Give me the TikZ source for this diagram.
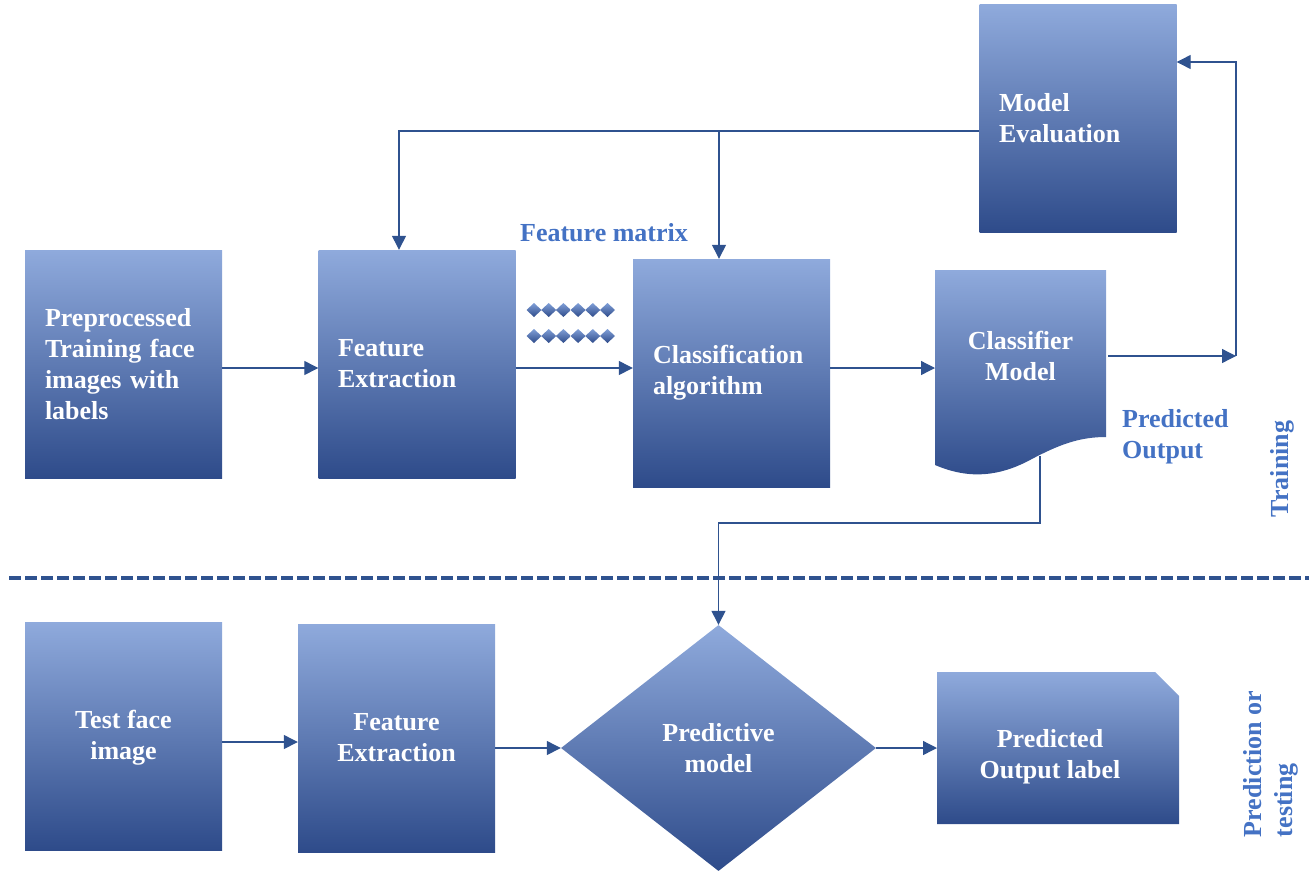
\documentclass[tikz,border=0pt]{standalone}
\usepackage{fontspec}
\setmainfont{Liberation Serif}
\usetikzlibrary{arrows.meta,shapes.geometric}
\definecolor{gtop}{HTML}{8FAADC}
\definecolor{gmid}{HTML}{4472C4}
\definecolor{gbot}{HTML}{2E4B8A}
\definecolor{lineblue}{HTML}{2F528F}
\definecolor{txtblue}{HTML}{4472C4}
\tikzset{
  grad/.style={top color=gtop, middle color=gmid, bottom color=gbot, draw=none},
  box/.style={grad, rectangle, inner sep=0pt, minimum width=197pt, minimum height=228pt,
    text=white, font=\fontsize{26}{31}\selectfont\bfseries},
  plain/.style={inner sep=0pt, text=white, font=\fontsize{26}{31}\selectfont\bfseries},
  conn/.style={draw=lineblue, line width=1.3pt, -{Triangle[length=14pt,width=14pt]}},
  wire/.style={draw=lineblue, line width=1.3pt},
  lbl/.style={text=txtblue, font=\fontsize{26}{31}\selectfont\bfseries, inner sep=0pt},
}
\begin{document}
\begin{tikzpicture}[x=1pt,y=-1pt]
\useasboundingbox (0,0) rectangle (1309,871);
% top row
\node[box, align=left, text width=157pt] (pre) at (123.5,364) {Preprocessed\\Training face\\images with\\labels};
\node[box, align=left, text width=158pt] (fe1) at (417,364) {Feature\\Extraction};
\node[box, align=left, text width=157pt] (ca) at (731.5,373) {Classification\\algorithm};
\node[box, align=left, text width=158pt] (me) at (1078,118.5) {Model\\Evaluation};
% classifier model (document shape)
\shade[grad] (935,270) -- (1106,270) -- (1106,437)
  .. controls (1080,437) and (1060,444) .. (1030,460)
  .. controls (1000,476) and (970,480) .. (935,465) -- cycle;
\node[plain, align=center, minimum width=171pt, minimum height=170pt] (cm) at (1020.5,356) {Classifier\\Model};
\coordinate (cmbot) at (1040,456);
\coordinate (cmout) at (1108,356);
% feature matrix diamonds
\foreach \cy in {310,336}{
  \foreach \cx in {534,548.7,563.4,578.1,592.8,607.5}{
    \shade[top color=gtop!80!gmid, bottom color=gbot] (\cx-7.5,\cy) -- (\cx,\cy-7) -- (\cx+7.5,\cy) -- (\cx,\cy+7) -- cycle;
  }
}
\node[lbl] (fm) at (604,233) {Feature matrix};
\node[lbl, align=left, anchor=west] (po) at (1122,437) {Predicted\\Output};
\node[lbl, rotate=90] (tr) at (1282,469) {Training};
\node[lbl, rotate=90, align=left] (pt) at (1271,764) {Prediction or\\testing};
% divider
\draw[lineblue, line width=4.3pt, dash pattern=on 12pt off 4pt] (9,578) -- (1309,578);
% bottom row
\node[box, align=center, text depth=2pt] (tf) at (123.5,736) {Test face\\image};
\node[box, align=center, text depth=2pt] (fe2) at (396.5,738) {Feature\\Extraction};
\node[grad, diamond, inner sep=0pt, minimum width=315pt, minimum height=246pt, plain, align=center] (pm) at (718.5,748) {Predictive\\model};
\shade[grad] (937,672) -- (1155,672) -- (1179,696) -- (1179,824) -- (937,824) -- cycle;
\node[plain, align=center, minimum width=242pt, minimum height=152pt] (pol) at (1050,757) {Predicted\\Output label};
% connectors top
\draw[conn] (pre.east |- 0,368) -- (fe1.west |- 0,368);
\draw[conn] (fe1.east |- 0,368) -- (ca.west |- 0,368);
\draw[conn] (ca.east |- 0,368) -- (935,368);
\coordinate (rt) at (1236,356);
\draw[conn] (cmout) -- (rt);
\draw[conn] (rt) -- (1236,62) -- (me.east |- 0,62);
\coordinate (jn) at (719,131);
\draw[wire] (me.west |- 0,131) -- (jn);
\draw[conn] (jn) -- (399,131) -- (fe1.north -| 399,0);
\draw[conn] (jn) -- (ca.north -| 719,0);
\draw[conn] (cmbot) -- (1040,523) -- (718.5,523) -- (pm.north);
% connectors bottom
\draw[conn] (tf.east |- 0,742) -- (fe2.west |- 0,742);
\draw[conn] (fe2.east |- 0,748) -- (pm.west);
\draw[conn] (pm.east) -- (937,748);
\end{tikzpicture}
\end{document}
